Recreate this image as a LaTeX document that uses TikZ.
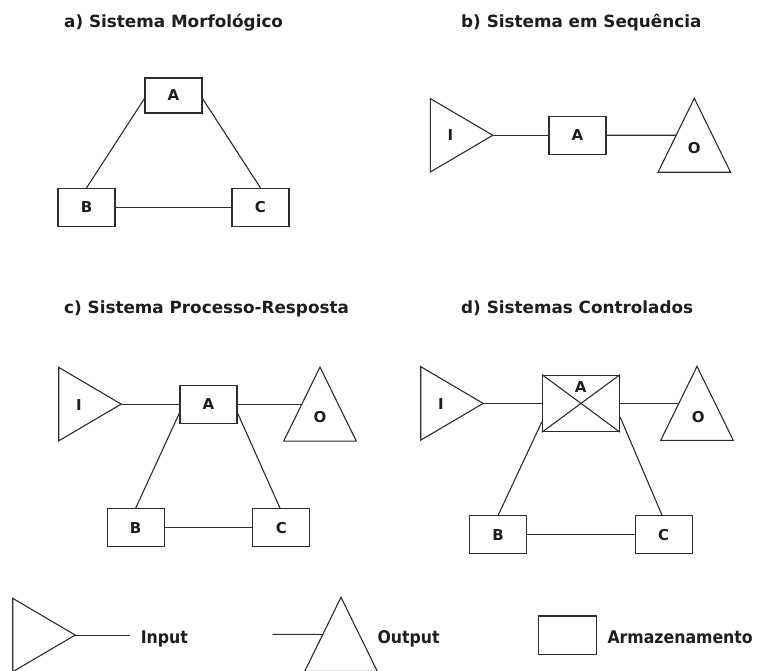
\documentclass[tikz,border=0pt]{standalone}
\usepackage{fontspec}
\setmainfont{DejaVu Sans}
\newfontfamily\legfont{DejaVu Sans Condensed}
\usetikzlibrary{calc}
\definecolor{ln}{RGB}{45,45,45}
\definecolor{tx}{RGB}{30,30,30}
\tikzset{
  box/.style={draw=ln, line width=1.1pt, rectangle, inner sep=0pt,
    minimum width=57pt, minimum height=38pt, text=tx,
    font=\fontsize{15}{15}\selectfont\bfseries},
  lbl/.style={inner sep=0pt, text=tx, font=\fontsize{15}{15}\selectfont\bfseries},
  ttl/.style={inner sep=0pt, anchor=base west, text=tx,
    font=\fontsize{16.8}{17}\selectfont\bfseries},
  leg/.style={inner sep=0pt, anchor=base west, text=tx,
    font=\fontsize{17.5}{18}\legfont\bfseries},
  conn/.style={draw=ln, line width=1.1pt}
}
% input triangle: name, x of left side, y of top
\newcommand\intri[3]{%
  \coordinate (#1t) at (#2,#3);
  \coordinate (#1b) at (#2,#3+73.5);
  \coordinate (#1p) at (#2+62.5,#3+36.75);
  \draw[conn, line join=miter] (#1t) -- (#1p) -- (#1b) -- cycle;
}
% output triangle: name, apex x, apex y
\newcommand\outtri[3]{%
  \coordinate (#1a) at (#2,#3);
  \coordinate (#1l) at (#2-36.3,#3+74);
  \coordinate (#1r) at (#2+36.3,#3+74);
  \coordinate (#1m) at ($(#1a)!0.5!(#1l)$);
  \draw[conn, line join=miter] (#1a) -- (#1l) -- (#1r) -- cycle;
}
\begin{document}
\begin{tikzpicture}[x=1pt,y=-1pt]
\useasboundingbox (0,0) rectangle (764,671);

% ---------- a) ----------
\node[ttl] (ta) at (64,27.3) {a) Sistema Morfológico};
\node[box, minimum height=35pt] (aA) at (173.5,95.5) {A};
\node[box] (aB) at (86.5,207.5) {B};
\node[box] (aC) at (260.5,207.5) {C};
\draw[conn] (aA.186) -- (aB.north);
\draw[conn] (aA.-6) -- (aC.north);
\draw[conn] (aB) -- (aC);

% ---------- b) ----------
\node[ttl] (tb) at (461,27.3) {b) Sistema em Sequência};
\intri{bI}{430.3}{98.55}
\node[lbl] (bIl) at (450.3,135.3) {I};
\node[box] (bA) at (577.5,135.3) {A};
\outtri{bO}{694.3}{98.3}
\node[lbl] (bOl) at (694.3,148.5) {O};
\draw[conn] (bIp) -- (bA.west);
\draw[conn] (bA.east) -- (bOm);

% ---------- c) ----------
\node[ttl] (tc) at (64,313.3) {c) Sistema Processo-Resposta};
\intri{cI}{58.7}{367.35}
\node[lbl] (cIl) at (79,404.6) {I};
\node[box] (cA) at (208.5,404.1) {A};
\outtri{cO}{320}{367.1}
\node[lbl] (cOl) at (320,416.7) {O};
\node[box] (cB) at (135.7,527.7) {B};
\node[box] (cC) at (281.3,527.7) {C};
\draw[conn] (cIp) -- (cA.west);
\draw[conn] (cA.east) -- (cOm);
\draw[conn] (cA.197) -- (cB.north);
\draw[conn] (cA.-17) -- ([xshift=-1.3pt]cC.north);
\draw[conn] (cB) -- (cC);

% ---------- d) ----------
\node[ttl] (td) at (461,313.3) {d) Sistemas Controlados};
\intri{dI}{420.7}{366.65}
\node[lbl] (dIl) at (441,404) {I};
\node[box, minimum width=77pt, minimum height=56.5pt] (dA) at (581,403.4) {};
\draw[conn] (dA.north west) -- (dA.south east);
\draw[conn] (dA.south west) -- (dA.north east);
\node[lbl] (dAl) at (580.8,386.9) {A};
\outtri{dO}{697}{366.4}
\node[lbl] (dOl) at (698.2,416.7) {O};
\node[box] (dB) at (498.2,534.7) {B};
\node[box] (dC) at (663.7,534.7) {C};
\draw[conn] (dIp) -- (dA.west);
\draw[conn] (dA.east) -- (dOm);
\draw[conn] (dA.205) -- (dB.north);
\draw[conn] (dA.341) -- ([xshift=-1.7pt]dC.north);
\draw[conn] (dB) -- (dC);

% ---------- legend ----------
\intri{lI}{12.7}{598.3}
\coordinate (lIe) at (130,635.05);
\draw[conn] (lIp) -- (lIe);
\node[leg] (lIt) at (140.7,643) {Input};
\outtri{lO}{341}{597.3}
\coordinate (lOs) at (272.7,634.3);
\draw[conn] (lOs) -- (lOm);
\node[leg] (lOt) at (377.3,643) {Output};
\node[box, minimum width=57.7pt, minimum height=38.7pt] (lS) at (567.2,635.3) {};
\node[leg] (lSt) at (607.3,643.3) {Armazenamento};
\end{tikzpicture}
\end{document}
